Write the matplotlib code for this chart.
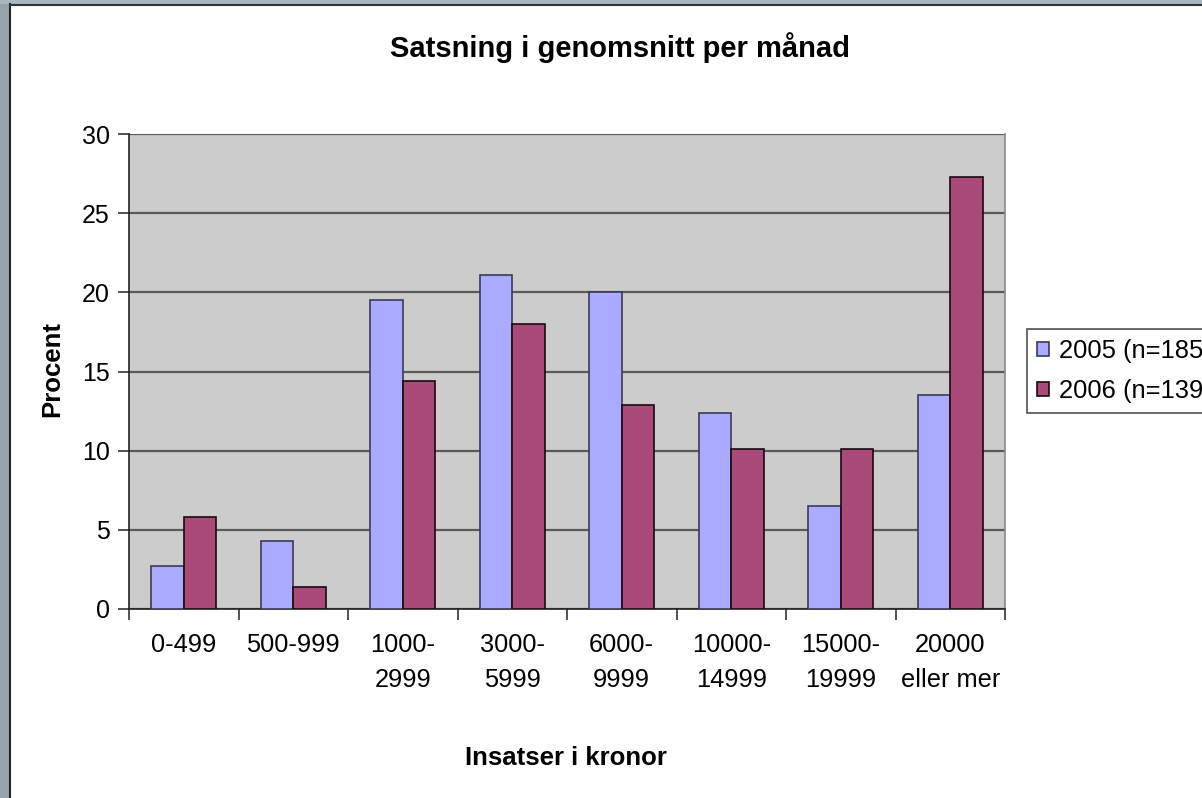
import matplotlib
matplotlib.use("Agg")
import matplotlib.pyplot as plt
import numpy as np
from matplotlib.patches import Rectangle

plt.rcParams['font.family'] = ['Liberation Sans', 'DejaVu Sans']

categories = ["0-499", "500-999", "1000-\n2999", "3000-\n5999", "6000-\n9999",
              "10000-\n14999", "15000-\n19999", "20000\neller mer"]
series_2005 = [2.7, 4.3, 19.5, 21.1, 20.0, 12.4, 6.5, 13.5]
series_2006 = [5.8, 1.4, 14.4, 18.0, 12.9, 10.1, 10.1, 27.3]
labels = ["2005 (n=185)", "2006 (n=139)"]
yticks = [0, 5, 10, 15, 20, 25, 30]

W, H = 1202, 798
fig = plt.figure(figsize=(W / 100, H / 100), dpi=100)
fig.patch.set_facecolor("white")

# window frame
fig.patches.append(Rectangle((0, 0), 9 / W, 1, transform=fig.transFigure,
                             facecolor="#94A3AA", edgecolor="none", zorder=0))
fig.patches.append(Rectangle((0, 1 - 4 / H), 1, 4 / H, transform=fig.transFigure,
                             facecolor="#A9B6BD", edgecolor="none", zorder=0))
fig.add_artist(plt.Line2D([9.5 / W, 9.5 / W], [0, 1 - 4 / H], transform=fig.transFigure,
                          color="#222222", lw=1.5))
fig.add_artist(plt.Line2D([9.5 / W, 1], [1 - 5 / H, 1 - 5 / H], transform=fig.transFigure,
                          color="#333333", lw=1.5))

ax = fig.add_axes([129 / W, 1 - 609 / H, (1005 - 129) / W, (609 - 134) / H])
ax.set_facecolor("#CCCCCC")

x = np.arange(len(categories))
bw = 0.295
ax.bar(x - bw / 2, series_2005, bw, color="#AAAAFF", edgecolor="#3A3A5A", lw=1.2,
       label=labels[0], zorder=3)
ax.bar(x + bw / 2, series_2006, bw, color="#A94A78", edgecolor="#1A0A10", lw=1.2,
       label=labels[1], zorder=3)

ax.set_xlim(-0.5, len(categories) - 0.5)
ax.set_ylim(0, 30)
ax.set_yticks(yticks)
ax.set_yticklabels([str(v) for v in yticks], fontsize=18)
ax.yaxis.grid(True, color="#5A5A5A", lw=1.6, zorder=1)
ax.set_axisbelow(True)

ax.set_xticks(x)
ax.set_xticklabels(categories, fontsize=18.3, linespacing=1.6)
ax.set_xticks(np.arange(len(categories) + 1) - 0.5, minor=True)
ax.tick_params(axis='x', which='major', length=0, pad=17)
ax.tick_params(axis='x', which='minor', length=8, width=1.2, color="#333333")
ax.tick_params(axis='y', length=8, width=1.2, color="#333333", pad=6)

for side in ["left", "bottom"]:
    ax.spines[side].set_color("#222222")
    ax.spines[side].set_linewidth(1.2)
ax.spines["top"].set_visible(False)
ax.spines["right"].set_color("#888888")
ax.spines["right"].set_linewidth(1.2)

fig.text(620 / W, 1 - 48 / H, "Satsning i genomsnitt per månad", ha="center", va="center",
         fontsize=21, fontweight="bold")
fig.text(566 / W, 1 - 758 / H, "Insatser i kronor", ha="center", va="center",
         fontsize=18.5, fontweight="bold")
fig.text(52 / W, 1 - 369 / H, "Procent", ha="center", va="center", rotation=90,
         fontsize=18.5, fontweight="bold")

# the legend runs past the right edge in the reference, so its text is clipped there too
leg = fig.legend(loc="upper left", bbox_to_anchor=(1027 / W, 1 - 329 / H),
                 fontsize=18.4, frameon=True, fancybox=False, handlelength=0.45,
                 handleheight=0.45, handletextpad=0.4, borderpad=0.4,
                 labelspacing=0.62, borderaxespad=0)
leg.get_frame().set_edgecolor("#222222")
leg.get_frame().set_linewidth(1.2)

fig.savefig("out.png", dpi=100)
